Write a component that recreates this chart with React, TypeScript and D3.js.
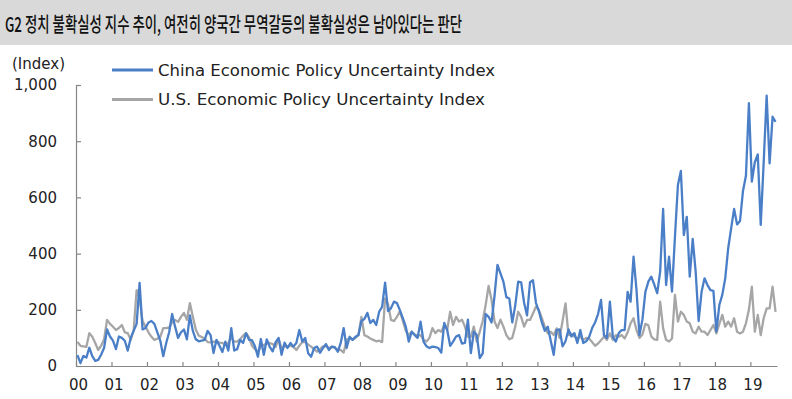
import React, { useRef, useEffect } from "react";
import * as d3 from "d3";

const titleText =
  "G2 정치 불확실성 지수 추이, 여전히 양국간 무역갈등의 불확실성은 남아있다는 판단";
const unitLabel = "(Index)";

const yearLabels = [
  "00", "01", "02", "03", "04", "05", "06", "07", "08", "09",
  "10", "11", "12", "13", "14", "15", "16", "17", "18", "19",
];
const yTicks = [0, 200, 400, 600, 800, 1000];

const seriesNames = [
  "China Economic Policy Uncertainty Index",
  "U.S. Economic Policy Uncertainty Index",
];
const seriesColors = ["#4a7fc8", "#a6a6a6"];

// monthly, Jan 2000 ~ Sep 2019
const chinaEpu = [
  39, 10, 36, 30, 65, 35, 18, 22, 40, 65, 130, 105,
  90, 60, 105, 100, 90, 55, 100, 125, 150, 296, 130, 135,
  155, 160, 150, 120, 90, 35, 82, 120, 185, 140, 100, 120,
  130, 95, 180, 125, 95, 88, 90, 93, 125, 110, 46, 93,
  72, 50, 87, 55, 135, 55, 60, 93, 82, 117, 93, 92,
  70, 33, 96, 40, 95, 68, 52, 85, 100, 40, 83, 64,
  82, 69, 82, 128, 87, 100, 45, 33, 64, 69, 47, 64,
  78, 57, 69, 67, 51, 82, 135, 64, 104, 93, 104, 110,
  160, 167, 189, 153, 164, 146, 193, 211, 297, 195, 206, 229,
  224, 199, 170, 140, 87, 122, 110, 100, 158, 87, 70, 64,
  69, 67, 64, 48, 153, 128, 72, 87, 105, 110, 80, 82,
  165, 46, 122, 110, 28, 45, 185, 175, 155, 250, 360, 330,
  300, 245, 240, 155, 215, 300, 298, 225, 180, 298, 305, 225,
  195, 155, 125, 140, 90, 40, 128, 130, 70, 88, 130, 105,
  117, 82, 128, 82, 88, 104, 135, 155, 185, 235, 110, 100,
  229, 104, 87, 117, 128, 128, 264, 229, 389, 270, 110, 165,
  264, 300, 318, 290, 259, 336, 559, 288, 389, 265, 460, 644,
  694, 466, 531, 318, 452, 336, 160, 264, 312, 288, 270, 267,
  122, 217, 253, 312, 419, 490, 559, 504, 516, 623, 677, 935,
  656, 725, 753, 502, 725, 962, 721, 887, 869,
];

const usEpu = [
  86, 72, 70, 68, 117, 104, 82, 57, 72, 95, 164, 150,
  140, 128, 135, 146, 120, 117, 93, 128, 270, 240, 160, 140,
  120, 104, 93, 97, 104, 135, 135, 137, 155, 164, 157, 175,
  189, 164, 224, 175, 130, 108, 103, 98, 85, 84, 87, 86,
  83, 82, 75, 82, 100, 87, 87, 96, 108, 117, 102, 72,
  60, 52, 68, 75, 80, 82, 78, 68, 96, 64, 70, 69,
  72, 68, 57, 72, 85, 86, 76, 69, 60, 51, 60, 70,
  70, 64, 68, 64, 57, 57, 48, 93, 100, 93, 100, 110,
  175, 110, 105, 98, 93, 88, 90, 85, 240, 220, 164, 160,
  175, 195, 160, 125, 110, 122, 112, 108, 110, 93, 87, 100,
  135, 117, 128, 122, 146, 128, 193, 146, 175, 158, 165, 140,
  104, 104, 140, 87, 122, 160, 217, 285, 235, 158, 135, 165,
  140, 110, 95, 100, 140, 193, 175, 140, 164, 164, 187, 211,
  199, 170, 140, 116, 122, 110, 134, 100, 160, 223, 110, 115,
  105, 98, 104, 93, 100, 97, 85, 72, 80, 92, 104, 93,
  116, 93, 110, 104, 110, 98, 120, 152, 170, 128, 100, 112,
  150, 145, 105, 95, 93, 229, 134, 93, 87, 98, 253, 158,
  193, 182, 158, 152, 122, 116, 140, 122, 122, 110, 128, 146,
  116, 150, 182, 140, 158, 140, 170, 122, 116, 122, 152, 200,
  282, 122, 182, 110, 170, 205, 205, 282, 193,
];

export default function App() {
  const ref = useRef<SVGSVGElement | null>(null);

  useEffect(() => {
    const width = 792;
    const height = 399;
    const margin = { top: 85, right: 15, bottom: 33, left: 76 };

    const svg = d3.select(ref.current);
    svg.selectAll("*").remove();
    svg
      .attr("width", width)
      .attr("height", height)
      .style("font-family", "'DejaVu Sans', sans-serif");

    svg.append("rect").attr("width", width).attr("height", height).attr("fill", "#fff");

    // title band
    svg.append("rect").attr("width", width).attr("height", 45).attr("fill", "#d9d9d9");
    svg
      .append("text")
      .attr("x", 5)
      .attr("y", 31.5)
      .attr("font-family", "'Noto Sans CJK KR', sans-serif")
      .attr("font-size", 20.5)
      .attr("font-weight", 500)
      .attr("textLength", 457)
      .attr("lengthAdjust", "spacingAndGlyphs")
      .attr("fill", "#111")
      .text(titleText);

    const n = chinaEpu.length;
    const x = d3
      .scaleLinear()
      .domain([0, n])
      .range([margin.left, width - margin.right]);
    const y = d3
      .scaleLinear()
      .domain([0, 1000])
      .range([height - margin.bottom, margin.top]);

    // y axis
    const gy = svg
      .append("g")
      .attr("transform", `translate(${margin.left},0)`)
      .call(
        d3
          .axisLeft(y)
          .tickValues(yTicks)
          .tickSize(-5)
          .tickSizeOuter(0)
          .tickPadding(19)
          .tickFormat(d3.format(","))
      );
    gy.selectAll("text").attr("font-size", 15).attr("fill", "#222").style("font-family", "'DejaVu Sans', sans-serif");

    // x axis, ticks at each January
    const gx = svg
      .append("g")
      .attr("transform", `translate(0,${height - margin.bottom})`)
      .call(
        d3
          .axisBottom(x)
          .tickValues(yearLabels.map((_, i) => i * 12))
          .tickSize(-4)
          .tickSizeOuter(0)
          .tickPadding(13)
          .tickFormat((_, i) => yearLabels[i])
      );
    gx.selectAll("text").attr("x", 2).attr("font-size", 15).attr("fill", "#222").style("font-family", "'DejaVu Sans', sans-serif");

    svg.selectAll(".domain, .tick line").attr("stroke", "#868686").attr("stroke-width", 1.2);

    const line = d3
      .line<number>()
      .x((_, i) => x(i + 0.5))
      .y((d) => y(d));

    [usEpu, chinaEpu].forEach((vals, k) => {
      svg
        .append("path")
        .datum(vals)
        .attr("d", line)
        .attr("fill", "none")
        .attr("stroke", seriesColors[1 - k])
        .attr("stroke-width", 2.3)
        .attr("stroke-linejoin", "round");
    });

    // unit
    svg
      .append("text")
      .attr("x", 12)
      .attr("y", 68.5)
      .attr("font-size", 15)
      .attr("fill", "#222")
      .text(unitLabel);

    // legend
    const legendY = [70, 99.5];
    const legendLen = [337, 327];
    seriesNames.forEach((name, k) => {
      svg
        .append("line")
        .attr("x1", 112)
        .attr("x2", 153)
        .attr("y1", legendY[k])
        .attr("y2", legendY[k])
        .attr("stroke", seriesColors[k])
        .attr("stroke-width", 3);
      svg
        .append("text")
        .attr("x", 158)
        .attr("y", legendY[k] + 5.6)
        .attr("font-size", 16)
        .attr("fill", "#222")
        .attr("textLength", legendLen[k])
        .attr("lengthAdjust", "spacingAndGlyphs")
        .text(name);
    });
  }, []);

  return (
    <svg
      ref={ref}
      style={{ position: "absolute", left: 0, top: 0, display: "block" }}
    ></svg>
  );
}
